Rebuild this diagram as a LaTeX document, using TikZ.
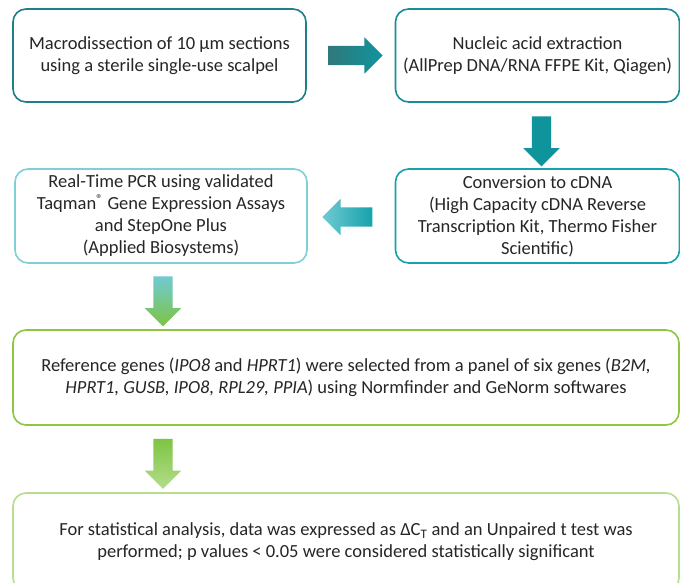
\documentclass[tikz,border=0pt]{standalone}
\usepackage{fontspec}
\setmainfont{Carlito}
\usepackage{tikz}
\usetikzlibrary{positioning, calc, shapes.arrows}

\definecolor{textgray}{HTML}{262626}
\definecolor{tealdark}{HTML}{1F7E86}
\definecolor{tealmid}{HTML}{168F98}
\definecolor{teallight}{HTML}{16A2AB}
\definecolor{tealpale}{HTML}{80CFD6}
\definecolor{greenmid}{HTML}{8DC63F}
\definecolor{greenpale}{HTML}{B7DD91}
\definecolor{arrowdark}{HTML}{2F797C}
\definecolor{arrowteal}{HTML}{10949C}
\definecolor{arrowsky}{HTML}{70CAD2}
\definecolor{arrowgreen}{HTML}{7DC443}
\definecolor{arrowlime}{HTML}{B4DD8C}

\tikzstyle{stepbox} = [draw, rounded corners=13pt, line width=1.6pt, align=center,
    text=textgray, minimum height=93pt, inner sep=0pt,
    font=\fontsize{18.5}{22}\selectfont]
\tikzstyle{fatarrow} = [single arrow, draw=none, inner sep=9.5pt,
    single arrow head extend=8.5pt, minimum height=54pt]

\begin{document}
\begin{tikzpicture}[node distance=4cm, on grid]
        \path[use as bounding box, fill=white] (0,0) rectangle (680pt,-582pt);

        \node[stepbox, draw=tealdark, minimum width=293pt] (macro) at (159.5pt,-55.5pt)
            {Macrodissection of 10 µm sections\\using a sterile single-use scalpel};
        \node[stepbox, draw=tealmid, minimum width=284pt] (extract) [right=378pt of macro]
            {Nucleic acid extraction\\(AllPrep DNA/RNA FFPE Kit, Qiagen)};
        \node[stepbox, draw=teallight, minimum width=284pt, minimum height=94pt] (cdna) [below=160.5pt of extract]
            {Conversion to cDNA\\(High Capacity cDNA Reverse\\Transcription Kit, Thermo Fisher\\Scientific)};
        \node[stepbox, draw=tealpale, minimum width=292pt, minimum height=94pt] (pcr) [left=376.5pt of cdna]
            {Real-Time PCR using validated\\Taqman\textsuperscript{®} Gene Expression Assays\\and StepOne Plus\\(Applied Biosystems)};
        \node[stepbox, draw=greenmid, minimum width=666pt, minimum height=95pt] (refgenes) at (346pt,-377.5pt)
            {Reference genes (\textit{IPO8} and \textit{HPRT1}) were selected from a panel of six genes (\textit{B2M,}\\
             \textit{HPRT1, GUSB, IPO8, RPL29, PPIA}) using Normfinder and GeNorm softwares};
        \node[stepbox, draw=greenpale, minimum width=666pt, minimum height=98pt] (stats) [below=164.5pt of refgenes]
            {For statistical analysis, data was expressed as ΔC\textsubscript{T} and an Unpaired t test was\\
             performed; p values < 0.05 were considered statistically significant};

        % thick arrows between the steps
        \node[fatarrow, left color=arrowdark, right color=arrowteal] (a1)
            at ($(macro.east)!0.5!(extract.west)$) {};
        \node[fatarrow, shape border rotate=270, minimum height=50pt, fill=arrowteal] (a2)
            at ($(extract.south)!0.5!(cdna.north)+(4pt,-1pt)$) {};
        \node[fatarrow, shape border rotate=180, minimum height=50pt, left color=arrowsky, right color=teallight] (a3)
            at ($(cdna.west)!0.5!(pcr.east)+(1pt,-1pt)$) {};
        \node[fatarrow, shape border rotate=270, minimum height=50pt, top color=arrowsky, bottom color=arrowgreen] (a4)
            at ($(pcr.south)!0.5!(pcr.south|-refgenes.north)+(2pt,0)$) {};
        \node[fatarrow, shape border rotate=270, minimum height=50pt, top color=arrowgreen, bottom color=arrowlime] (a5)
            at ($(refgenes.south-|a4)!0.5!(stats.north-|a4)$) {};

    \end{tikzpicture}
\end{document}
